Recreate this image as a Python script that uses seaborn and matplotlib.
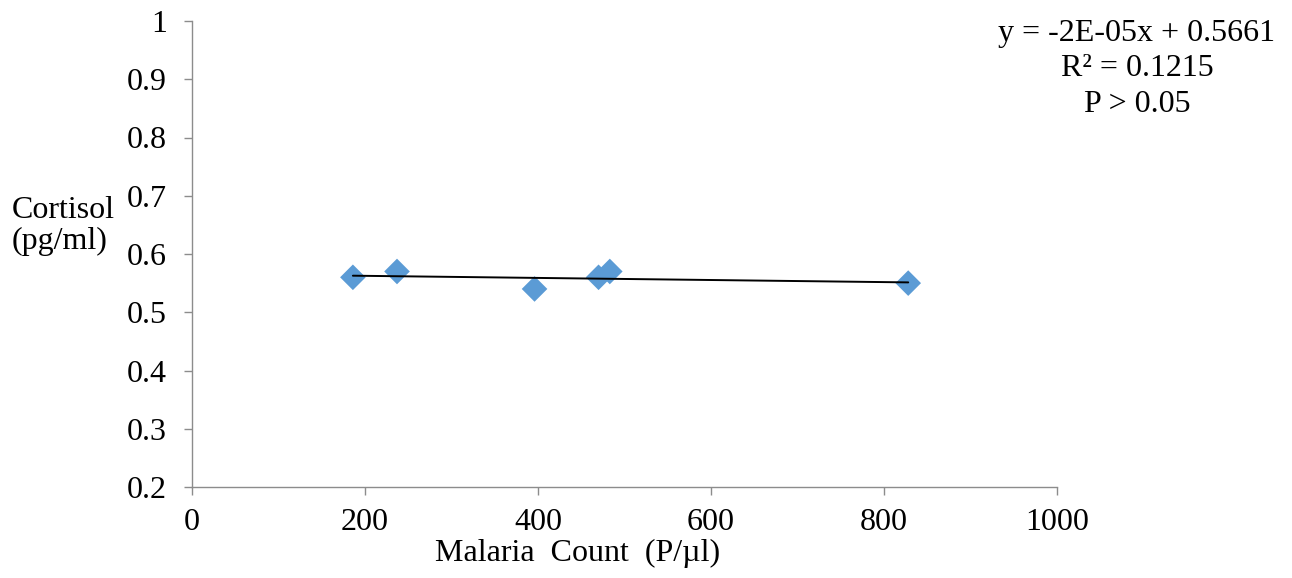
import matplotlib
matplotlib.use("Agg")
import matplotlib.pyplot as plt
import seaborn as sns
import numpy as np
import pandas as pd

# Data
malaria_count = [186, 237, 396, 470, 483, 828]
cortisol = [0.56, 0.57, 0.54, 0.56, 0.57, 0.55]
x_ticks = [0, 200, 400, 600, 800, 1000]
y_ticks = [0.2, 0.3, 0.4, 0.5, 0.6, 0.7, 0.8, 0.9, 1.0]
y_tick_labels = ["0.2", "0.3", "0.4", "0.5", "0.6", "0.7", "0.8", "0.9", "1"]
equation_lines = ["y = -2E-05x + 0.5661", "R\u00b2 = 0.1215", "P > 0.05"]

df = pd.DataFrame({"x": malaria_count, "y": cortisol})

sns.set_theme(style="white")
plt.rcParams["font.family"] = ["Liberation Serif", "DejaVu Serif"]

FS = 23

fig = plt.figure(figsize=(12.92, 5.78), dpi=100)
ax = fig.add_axes([192 / 1292, 1 - 487 / 578, (1057 - 192) / 1292, (487 - 21) / 578])

sns.regplot(
    data=df, x="x", y="y", ax=ax, ci=None, truncate=True, marker="D",
    scatter_kws={"s": 170, "color": "#5B9BD5", "edgecolors": "none", "alpha": 1, "zorder": 2},
    line_kws={"color": "black", "lw": 1.4, "zorder": 3},
)

ax.set_xlim(0, 1000)
ax.set_ylim(0.2, 1.0)
ax.set_xticks(x_ticks)
ax.set_xticklabels([str(t) for t in x_ticks])
ax.set_yticks(y_ticks)
ax.set_yticklabels(y_tick_labels)
ax.set_xlabel("")
ax.set_ylabel("")

for s in ["top", "right"]:
    ax.spines[s].set_visible(False)
for s in ["left", "bottom"]:
    ax.spines[s].set_color("#8c8c8c")
    ax.spines[s].set_linewidth(1.0)

ax.tick_params(axis="both", which="major", direction="out", length=6, width=1.0,
               color="#8c8c8c", labelsize=FS, labelcolor="black",
               bottom=True, left=True)
ax.tick_params(axis="x", pad=9)
ax.tick_params(axis="y", pad=12)
ax.grid(False)

fig.text(12 / 1292, 1 - 226 / 578, "Cortisol\n(pg/ml)", ha="left", va="center",
         fontsize=FS, color="black", linespacing=1.1)
fig.text(578 / 1292, 1 - 553 / 578, "Malaria  Count  (P/\u00b5l)", ha="center", va="center",
         fontsize=FS, color="black")

for i, line in enumerate(equation_lines):
    fig.text(1137 / 1292, 1 - (34 + 35 * i) / 578, line, ha="center", va="center",
             fontsize=FS, color="black")

fig.savefig("out.png", dpi=100, facecolor="white")
